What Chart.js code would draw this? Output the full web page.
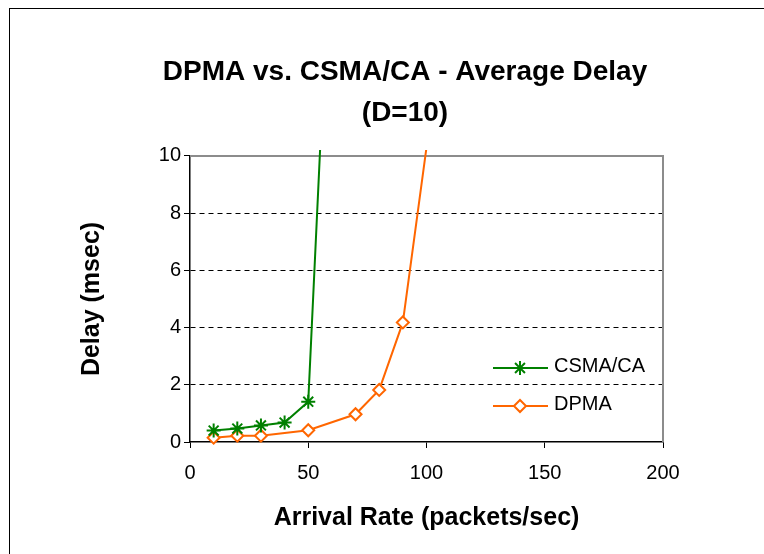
<!DOCTYPE html>
<html>
<head>
<meta charset="utf-8">
<script src="https://cdn.jsdelivr.net/npm/chart.js@4/dist/chart.umd.min.js"></script>
<style>
  html, body { margin: 0; padding: 0; background: #fff; }
  canvas { display: block; }
</style>
</head>
<body>
<canvas id="c" width="764" height="554"></canvas>
<script>
// ---- data ----
const titleLines = ["DPMA vs. CSMA/CA - Average Delay", "(D=10)"];
const xTitle = "Arrival Rate (packets/sec)";
const yTitle = "Delay (msec)";
const csmaLabel = "CSMA/CA";
const csmaX = [10, 20, 30, 40, 50, 60];
const csmaY = [0.40, 0.47, 0.58, 0.68, 1.41, 19];
const dpmaLabel = "DPMA";
const dpmaX = [10, 20, 30, 50, 70, 80, 90, 100];
const dpmaY = [0.15, 0.22, 0.22, 0.41, 0.97, 1.82, 4.18, 10.3];
const xMin = 0, xMax = 200, xStep = 50;
const yMin = 0, yMax = 10, yStep = 2;

const GREEN = '#008000';
const ORANGE = '#FF6600';
const FONT = "'Liberation Sans', Arial, sans-serif";

function pts(xs, ys) { return xs.map((x, i) => ({ x: x, y: ys[i] })); }
const hideOut = (ctx) => (ctx.raw && ctx.raw.y > yMax ? 0 : undefined);

const framePlugin = {
  id: 'frame',
  beforeDraw(chart) {
    const c = chart.ctx;
    c.save();
    c.fillStyle = '#fff';
    c.fillRect(0, 0, chart.width, chart.height);
    c.strokeStyle = '#000';
    c.lineWidth = 1;
    c.strokeRect(9.5, 8.5, 2000, 2000);
    c.restore();
  },
  beforeDatasetsDraw(chart) {
    const a = chart.chartArea, c = chart.ctx;
    c.save();
    c.strokeStyle = '#8c8c8c';
    c.lineWidth = 2;
    c.beginPath();
    c.moveTo(a.left, a.top);
    c.lineTo(a.right, a.top);
    c.lineTo(a.right, a.bottom);
    c.stroke();
    c.restore();
  }
};

const legendPlugin = {
  id: 'insideLegend',
  afterDatasetsDraw(chart) {
    const a = chart.chartArea, c = chart.ctx;
    const rows = [368, 406];
    chart.data.datasets.forEach((ds, i) => {
      const y = rows[i];
      const x0 = a.left + 303, x1 = a.left + 358, xm = a.left + 330;
      c.save();
      c.strokeStyle = ds.borderColor;
      c.lineWidth = ds.borderWidth;
      c.beginPath(); c.moveTo(x0, y); c.lineTo(x1, y); c.stroke();
      const r = ds.pointRadius;
      c.lineWidth = ds.pointBorderWidth;
      c.strokeStyle = ds.pointBorderColor;
      if (ds.pointStyle === 'star') {
        const d = r * Math.SQRT1_2;
        c.beginPath();
        c.moveTo(xm - r, y); c.lineTo(xm + r, y);
        c.moveTo(xm, y - r); c.lineTo(xm, y + r);
        c.moveTo(xm - d, y - d); c.lineTo(xm + d, y + d);
        c.moveTo(xm - d, y + d); c.lineTo(xm + d, y - d);
        c.stroke();
      } else {
        c.fillStyle = ds.pointBackgroundColor;
        c.beginPath();
        c.moveTo(xm - r, y); c.lineTo(xm, y - r); c.lineTo(xm + r, y); c.lineTo(xm, y + r);
        c.closePath(); c.fill(); c.stroke();
      }
      c.fillStyle = '#000';
      c.font = '20px ' + FONT;
      c.textBaseline = 'middle';
      c.textAlign = 'left';
      c.fillText(ds.label, a.left + 364, y - 2);
      c.restore();
    });
  }
};

new Chart(document.getElementById('c'), {
  type: 'line',
  data: {
    datasets: [
      {
        label: csmaLabel,
        data: pts(csmaX, csmaY),
        borderColor: GREEN,
        borderWidth: 2,
        pointStyle: 'star',
        pointRadius: 7,
        pointBorderWidth: 2,
        pointBorderColor: GREEN,
        pointBackgroundColor: GREEN,
        radius: hideOut,
        clip: { left: 5, top: 6, right: 5, bottom: 5 },
        tension: 0
      },
      {
        label: dpmaLabel,
        data: pts(dpmaX, dpmaY),
        borderColor: ORANGE,
        borderWidth: 2,
        pointStyle: 'rectRot',
        pointRadius: 6,
        pointBorderWidth: 2,
        pointBorderColor: ORANGE,
        pointBackgroundColor: '#ffffff',
        radius: hideOut,
        clip: { left: 5, top: 6, right: 5, bottom: 5 },
        tension: 0
      }
    ]
  },
  options: {
    responsive: false,
    animation: false,
    events: [],
    layout: { padding: { left: 0, right: -46, top: 0, bottom: 0 } },
    elements: { point: { radius: (ctx) => (ctx.raw && ctx.raw.y > yMax ? 0 : (ctx.dataset.pointRadius)) } },
    plugins: {
      legend: { display: false },
      tooltip: { enabled: false },
      title: {
        display: true,
        text: titleLines,
        color: '#000',
        font: { family: FONT, size: 28, weight: 'bold', lineHeight: 1.464 },
        padding: { top: 52, bottom: 22 }
      }
    },
    scales: {
      x: {
        type: 'linear',
        position: 'bottom',
        min: xMin, max: xMax,
        afterFit(s) { s.height = 112; },
        ticks: {
          stepSize: xStep,
          color: '#000',
          padding: 13,
          font: { family: FONT, size: 20 },
          maxRotation: 0
        },
        grid: { drawOnChartArea: false, drawTicks: true, tickLength: 6, tickColor: '#000', tickWidth: 1 },
        border: { display: true, color: '#000', width: 1.5 },
        title: {
          display: true, text: xTitle, color: '#000',
          font: { family: FONT, size: 25, weight: 'bold', lineHeight: 1.2 },
          padding: { top: 0, bottom: 21 }
        }
      },
      y: {
        type: 'linear',
        position: 'left',
        min: yMin, max: yMax,
        afterFit(s) { s.width = 190; },
        ticks: {
          stepSize: yStep,
          color: '#000',
          padding: 3,
          font: { family: FONT, size: 20 }
        },
        grid: {
          drawOnChartArea: true,
          color: (ctx) => (ctx.tick && (ctx.tick.value === yMin || ctx.tick.value === yMax) ? 'rgba(0,0,0,0)' : '#000'),
          lineWidth: 1,
          drawTicks: true, tickLength: 6, tickColor: '#000', tickWidth: 1
        },
        border: { display: true, color: '#000', width: 1.5, dash: [5, 4] },
        title: {
          display: true, text: yTitle, color: '#000',
          font: { family: FONT, size: 25, weight: 'bold', lineHeight: 1.2 },
          padding: { top: 77, bottom: 0 }
        }
      },
      yR: {
        type: 'linear',
        position: 'right',
        display: true,
        min: 0, max: 1,
        afterFit(s) { s.width = 147; },
        ticks: { display: false },
        grid: { display: false, drawTicks: false },
        border: { display: false },
        title: { display: false }
      }
    }
  },
  plugins: [framePlugin, legendPlugin]
});
</script>
</body>
</html>
